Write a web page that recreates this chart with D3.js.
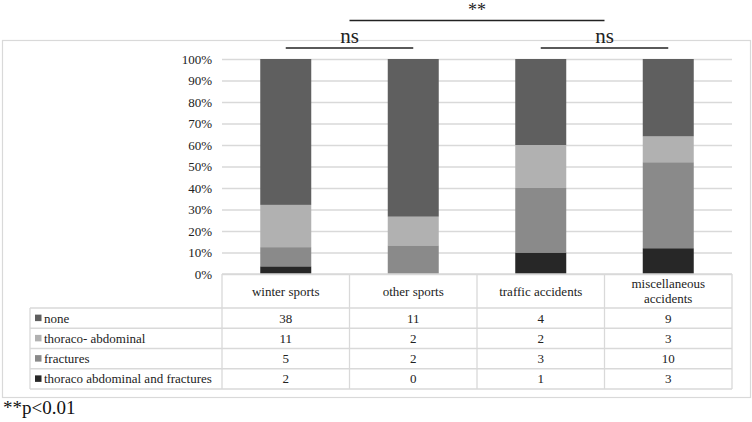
<!DOCTYPE html>
<html><head><meta charset="utf-8">
<script src="https://cdn.jsdelivr.net/npm/d3@7/dist/d3.min.js"></script>
<style>body{margin:0;background:#fff}svg{display:block}</style>
</head><body><svg id="c" width="752" height="422"></svg>
<script>
const categories = ["winter sports", "other sports", "traffic accidents", "miscellaneous accidents"];
const categoryLines = [["winter sports"], ["other sports"], ["traffic accidents"], ["miscellaneous", "accidents"]];
const seriesNames = ["none", "thoraco- abdominal", "fractures", "thoraco abdominal and fractures"];
const none = [38, 11, 4, 9];
const thoracoAbdominal = [11, 2, 2, 3];
const fractures = [5, 2, 3, 10];
const thoracoAndFractures = [2, 0, 1, 3];
const seriesColors = ["#5f5f5f", "#b1b1b1", "#8a8a8a", "#272727"];
const yTicks = [0, 0.1, 0.2, 0.3, 0.4, 0.5, 0.6, 0.7, 0.8, 0.9, 1.0];
const comparisons = [
  {a: 0, b: 1, label: "ns", level: 0},
  {a: 2, b: 3, label: "ns", level: 0},
  {a: 0.5, b: 2.5, label: "**", level: 1}
];
const footnote = "**p<0.01";

(function () {
const seriesValues = [none, thoracoAbdominal, fractures, thoracoAndFractures];
const rows = categories.map((c, i) => {
  const r = {cat: c};
  seriesNames.forEach((s, k) => r[s] = seriesValues[k][i]);
  return r;
});

const svg = d3.select("#c");
const serif = "'Liberation Serif','Times New Roman',serif";
const pL = 222, pR = 732, pT = 59, pB = 274;

// outer frame
svg.append("rect").attr("x", 2.5).attr("y", 40.5).attr("width", 748).attr("height", 357)
  .attr("fill", "none").attr("stroke", "#d9d9d9").attr("stroke-width", 1.2);

const x = d3.scaleBand().domain(categories).range([pL, pR]).paddingInner(0).paddingOuter(0);
const y = d3.scaleLinear().domain([0, 1]).range([pB, pT]);

// gridlines + y axis
const yAxis = d3.axisLeft(y).tickValues(yTicks).tickFormat(d3.format(".0%")).tickSize(-(pR - pL)).tickPadding(10);
const ga = svg.append("g").attr("transform", `translate(${pL},0)`).call(yAxis);
ga.select(".domain").remove();
ga.selectAll(".tick line").attr("stroke", "#d9d9d9").attr("stroke-width", 1.3);
ga.selectAll(".tick text").attr("font-family", serif).attr("font-size", 13).attr("fill", "#222");

// stacked bars (bottom to top: combined, fractures, thoraco, none)
const order = [3, 2, 1, 0];
const stack = d3.stack().keys(order.map(k => seriesNames[k])).offset(d3.stackOffsetExpand);
const layers = stack(rows);
const bw = x.bandwidth() * 0.4;
layers.forEach((layer, li) => {
  const k = order[li];
  svg.append("g").selectAll("rect").data(layer).join("rect")
    .attr("x", d => x(d.data.cat) + (x.bandwidth() - bw) / 2)
    .attr("width", bw)
    .attr("y", d => y(d[1]))
    .attr("height", d => y(d[0]) - y(d[1]))
    .attr("fill", seriesColors[k]);
});

// data table
const legendLeft = 30;
const headerBottom = 308;
const rowH = 20.25;
const tableBottom = headerBottom + rowH * seriesNames.length;
const tg = svg.append("g").attr("stroke", "#d9d9d9").attr("stroke-width", 1.3);
tg.append("line").attr("x1", pL).attr("x2", pR).attr("y1", pB).attr("y2", pB);
for (let i = 0; i <= seriesNames.length; i++) {
  const yy = headerBottom + i * rowH;
  tg.append("line").attr("x1", legendLeft).attr("x2", pR).attr("y1", yy).attr("y2", yy);
}
tg.append("line").attr("x1", legendLeft).attr("x2", legendLeft).attr("y1", headerBottom).attr("y2", tableBottom);
categories.forEach((c) => {
  const xx = x(c);
  tg.append("line").attr("x1", xx).attr("x2", xx).attr("y1", pB).attr("y2", tableBottom);
});
tg.append("line").attr("x1", pR).attr("x2", pR).attr("y1", pB).attr("y2", tableBottom);

// headers
categories.forEach((c, i) => {
  const lines = categoryLines[i];
  const cx = x(c) + x.bandwidth() / 2;
  const midY = (pB + headerBottom) / 2;
  lines.forEach((ln, j) => {
    svg.append("text").attr("x", cx).attr("y", midY + 4.5 + (j - (lines.length - 1) / 2) * 15)
      .attr("text-anchor", "middle").attr("font-family", serif).attr("font-size", 13).attr("fill", "#222").text(ln);
  });
});

// rows
seriesNames.forEach((s, k) => {
  const yy = headerBottom + k * rowH;
  svg.append("rect").attr("x", 35).attr("y", yy + rowH / 2 - 3.5).attr("width", 6.5).attr("height", 6.5).attr("fill", seriesColors[k]);
  svg.append("text").attr("x", 44).attr("y", yy + rowH / 2 + 4.5).attr("font-family", serif).attr("font-size", 13).attr("fill", "#222").text(s);
  categories.forEach((c, i) => {
    svg.append("text").attr("x", x(c) + x.bandwidth() / 2).attr("y", yy + rowH / 2 + 4.5)
      .attr("text-anchor", "middle").attr("font-family", serif).attr("font-size", 13).attr("fill", "#222").text(seriesValues[k][i]);
  });
});

// significance brackets
const center = i => {
  const f = Math.floor(i), fr = i - f;
  return x(categories[f]) + x.bandwidth() / 2 + fr * x.bandwidth();
};
comparisons.forEach(cp => {
  const ly = cp.level === 0 ? 48 : 20.5;
  const x1 = center(cp.a), x2 = center(cp.b);
  svg.append("line").attr("x1", x1).attr("x2", x2).attr("y1", ly).attr("y2", ly).attr("stroke", "#222").attr("stroke-width", 1.3);
  svg.append("text").attr("x", (x1 + x2) / 2).attr("y", ly - 5)
    .attr("text-anchor", "middle").attr("font-family", serif).attr("font-size", cp.level === 0 ? 21 : 18).attr("fill", "#222").text(cp.label);
});

// footnote
svg.append("text").attr("x", 3).attr("y", 414).attr("font-family", serif).attr("font-size", 19).attr("fill", "#111").text(footnote);
})();
</script></body></html>
